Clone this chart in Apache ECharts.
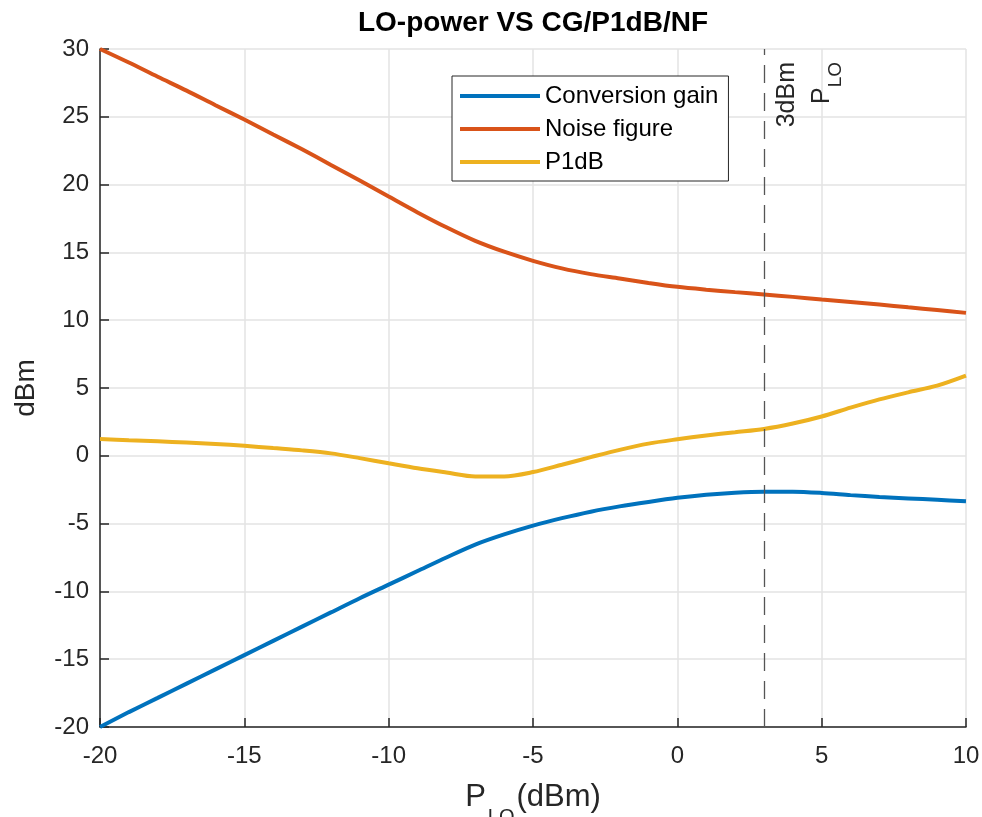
<!DOCTYPE html>
<html><head><meta charset="utf-8">
<script src="https://cdn.jsdelivr.net/npm/echarts@6/dist/echarts.min.js"></script>
<style>html,body{margin:0;padding:0;background:#fff}#c{width:982px;height:817px}</style>
</head><body><div id="c"></div>
<script>
// ---- data ----
const xLO = [-20,-19,-18,-17,-16,-15,-14,-13,-12,-11,-10,-9,-8,-7,-6,-5,-4,-3,-2,-1,0,1,2,3,4,5,6,7,8,9,10];
const convGain = [-20,-18.9,-17.85,-16.8,-15.75,-14.7,-13.65,-12.6,-11.55,-10.5,-9.5,-8.5,-7.5,-6.55,-5.8,-5.15,-4.6,-4.12,-3.73,-3.4,-3.1,-2.87,-2.72,-2.65,-2.65,-2.74,-2.9,-3.04,-3.14,-3.25,-3.36];
const noiseFig = [30,29.0,27.95,26.93,25.85,24.8,23.7,22.6,21.45,20.3,19.12,17.95,16.85,15.85,15.05,14.38,13.82,13.4,13.08,12.75,12.46,12.25,12.07,11.9,11.72,11.53,11.35,11.16,10.95,10.75,10.54];
const p1dB = [1.23,1.15,1.07,0.98,0.87,0.74,0.57,0.4,0.18,-0.17,-0.55,-0.92,-1.23,-1.52,-1.52,-1.2,-0.66,-0.1,0.44,0.9,1.22,1.5,1.74,1.98,2.38,2.9,3.55,4.16,4.68,5.17,5.91];
const seriesNames = ['Conversion gain','Noise figure','P1dB'];
const markerX = 3;
const titleText = 'LO-power VS CG/P1dB/NF';

const FONT = '"Liberation Sans", Arial, Helvetica, sans-serif';
const colors = ['#0072BD','#D95319','#EDB120'];
const pairs = arr => xLO.map((x,i)=>[x, arr[i]]);

const chart = echarts.init(document.getElementById('c'), null, {renderer:'canvas'});
chart.setOption({
  animation:false,
  backgroundColor:'#ffffff',
  color: colors,
  textStyle:{fontFamily:FONT},
  title:{
    text:titleText, left:533, top:9, textAlign:'center', padding:0,
    textStyle:{fontFamily:FONT, fontSize:28, fontWeight:'bold', color:'#000'}
  },
  grid:{left:100, right:16, top:49, bottom:90, containLabel:false, outerBoundsMode:'none'},
  legend:{
    orient:'vertical', left:452, top:76,
    backgroundColor:'#fff', borderColor:'#262626', borderWidth:1, borderRadius:0,
    padding:[8,10,7,8], itemGap:9, itemWidth:80, itemHeight:4,
    icon:'rect',
    textStyle:{fontFamily:FONT, fontSize:24, color:'#000', lineHeight:24},
    data: seriesNames
  },
  xAxis:{
    type:'value', min:-20, max:10, interval:5,
    name:'{p|P}{s|LO}{p|(dBm)}', nameLocation:'middle', nameGap:55,
    nameTextStyle:{
      rich:{
        p:{fontFamily:FONT, fontSize:31, color:'#262626', lineHeight:36, verticalAlign:'top'},
        s:{fontFamily:FONT, fontSize:20, color:'#262626', lineHeight:20, verticalAlign:'top', padding:[25,2,0,2]}
      }
    },
    axisLine:{show:true, onZero:false, lineStyle:{color:'#262626', width:1.5}},
    axisTick:{show:true, inside:true, length:9, lineStyle:{color:'#262626', width:1.5}},
    axisLabel:{fontFamily:FONT, fontSize:24, color:'#262626', margin:17},
    splitLine:{show:true, lineStyle:{color:'#e3e3e3', width:1.5}}
  },
  yAxis:{
    type:'value', min:-20, max:30, interval:5,
    name:'dBm', nameLocation:'middle', nameRotate:90, nameGap:60,
    nameTextStyle:{fontFamily:FONT, fontSize:28, color:'#262626'},
    axisLine:{show:true, onZero:false, lineStyle:{color:'#262626', width:1.5}},
    axisTick:{show:true, inside:true, length:9, lineStyle:{color:'#262626', width:1.5}},
    axisLabel:{fontFamily:FONT, fontSize:24, color:'#262626', margin:11},
    splitLine:{show:true, lineStyle:{color:'#e3e3e3', width:1.5}}
  },
  series:[
    {name:seriesNames[0], type:'line', data:pairs(convGain), showSymbol:false, symbol:'none', smooth:0.3,
     lineStyle:{width:4, color:colors[0]}, z:3,
     markLine:{silent:true, symbol:['none','none'], label:{show:false},
       lineStyle:{type:[18,10], color:'#555', width:1.3},
       data:[{xAxis:markerX}]}
    },
    {name:seriesNames[1], type:'line', data:pairs(noiseFig), showSymbol:false, symbol:'none', smooth:0.3,
     lineStyle:{width:4, color:colors[1]}, z:3},
    {name:seriesNames[2], type:'line', data:pairs(p1dB), showSymbol:false, symbol:'none', smooth:0.3,
     lineStyle:{width:4, color:colors[2]}, z:3}
  ]
});

// rotated annotation next to the dashed marker line
const markTop = chart.convertToPixel({gridIndex:0}, [markerX, 30]);
chart.setOption({
  graphic:[{
    type:'text', x: markTop[0] + 8, y: markTop[1] + 13, rotation: Math.PI/2, z:10,
    style:{
      text:'{a|3dBm}\n{p|P}{s|LO}',
      align:'right', verticalAlign:'top',
      rich:{
        a:{fontFamily:FONT, fontSize:25, lineHeight:30, fill:'#262626'},
        p:{fontFamily:FONT, fontSize:25, lineHeight:30, verticalAlign:'top', padding:[8,0,0,0], fill:'#262626'},
        s:{fontFamily:FONT, fontSize:19, lineHeight:19, verticalAlign:'top', padding:[24,0,0,0], fill:'#262626'}
      }
    }
  }]
});
</script>
</body></html>
